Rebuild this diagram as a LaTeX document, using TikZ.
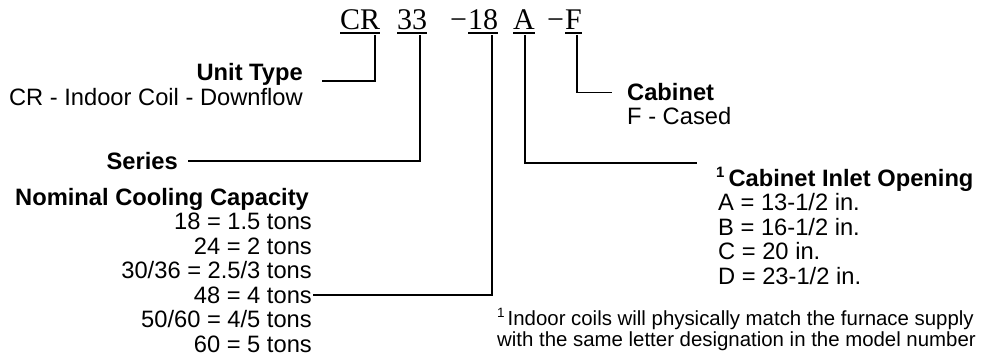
\documentclass[tikz,border=0pt]{standalone}
\usepackage{fontspec}
\setmainfont{Liberation Sans}
\newfontfamily\codefont{Liberation Serif}
\begin{document}
\begin{tikzpicture}[x=1pt,y=-1pt,
  code/.style={inner sep=0pt,anchor=base west,font=\codefont\fontsize{30}{30}\selectfont},
  lbl/.style={inner sep=0pt,font=\fontsize{23.7}{24.5}\selectfont},
  hdr/.style={lbl,font=\fontsize{23.7}{24.5}\selectfont\bfseries},
  note/.style={inner sep=0pt,anchor=base west,font=\fontsize{20.4}{20.4}\selectfont},
  conn/.style={line width=1.3pt,line cap=butt,line join=miter},
  uline/.style={line width=1.3pt}]
\useasboundingbox (0,0) rectangle (987,356);
\fill[white] (0,0) rectangle (987,356);
% model number
\node[code] (cr) at (340,29) {CR};
\node[code] (s33) at (397,29) {33};
\node[code] (m1) at (450,29) {\char"2212};
\node[code] (n18) at (468,29) {18};
\node[code] (ca) at (513,29) {A};
\node[code] (m2) at (547,29) {\char"2212};
\node[code] (cf) at (565,29) {F};
\foreach \n in {cr,s33,n18,ca,cf}
  \draw[uline] ([yshift=-4pt]\n.base west) -- ([yshift=-4pt]\n.base east);
% tops of connectors
\coordinate (tcr) at (375,35);
\coordinate (t33) at (420,35);
\coordinate (t18) at (492,35);
\coordinate (ta) at (525,35);
\coordinate (tf) at (577,35);
% left labels
\node[hdr,anchor=base east] (ut) at (303,80.5) {Unit Type};
\node[lbl,anchor=base east] (utd) at (303,105.5) {CR - Indoor Coil - Downflow};
\node[hdr,anchor=base east] (ser) at (178,169) {Series};
\node[hdr,anchor=base west] (ncc) at (15,205) {Nominal Cooling Capacity};
\node[lbl,anchor=base east] (c1) at (312,229.5) {18 = 1.5 tons};
\node[lbl,anchor=base east] (c2) at (312,254) {24 = 2 tons};
\node[lbl,anchor=base east] (c3) at (312,278.5) {30/36 = 2.5/3 tons};
\node[lbl,anchor=base east] (c4) at (312,303) {48 = 4 tons};
\node[lbl,anchor=base east] (c5) at (312,327.5) {50/60 = 4/5 tons};
\node[lbl,anchor=base east] (c6) at (312,352) {60 = 5 tons};
% right labels
\node[hdr,anchor=base west] (cab) at (627,100.5) {Cabinet};
\node[lbl,anchor=base west] (cabd) at (627,124.5) {F - Cased};
\node[hdr,anchor=base west] (cio) at (716,186.5) {\raisebox{0.36em}{\fontsize{15}{15}\selectfont 1}\hspace{4pt}Cabinet Inlet Opening};
\node[lbl,anchor=base west] (ia) at (718,210.5) {A = 13-1/2 in.};
\node[lbl,anchor=base west] (ib) at (718,235) {B = 16-1/2 in.};
\node[lbl,anchor=base west] (ic) at (718,259.5) {C = 20 in.};
\node[lbl,anchor=base west] (id) at (718,284) {D = 23-1/2 in.};
\node[note] (fn1) at (497,325) {\raisebox{0.36em}{\fontsize{13.5}{13.5}\selectfont 1}\hspace{3pt}Indoor coils will physically match the furnace supply};
\node[note] (fn2) at (497,346) {with the same letter designation in the model number};
% connectors
\draw[conn] (tcr) |- ([xshift=19pt,yshift=-0.5pt]ut.base east);
\draw[conn] (t33) |- ([xshift=10pt,yshift=8pt]ser.base east);
\draw[conn] (t18) |- ([xshift=1pt,yshift=8pt]c4.base east);
\draw[conn] (ta) |- ([xshift=-19pt,yshift=23.5pt]cio.base west);
\draw[conn] (tf) |- ([xshift=-15pt,yshift=8pt]cab.base west);
\end{tikzpicture}
\end{document}
